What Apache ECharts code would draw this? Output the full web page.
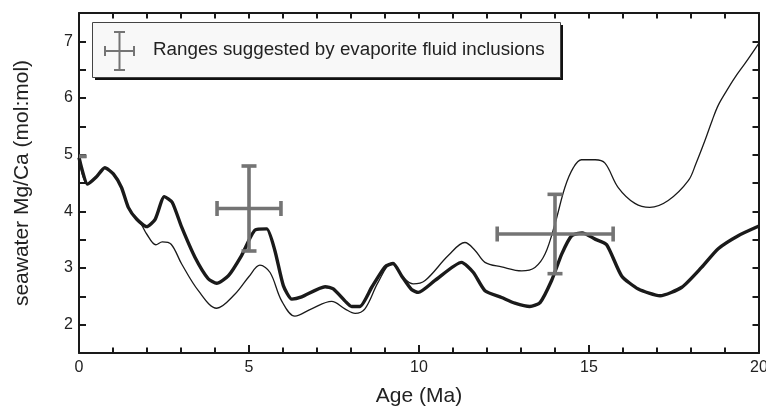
<!DOCTYPE html>
<html>
<head>
<meta charset="utf-8">
<script src="https://cdn.jsdelivr.net/npm/echarts@6/dist/echarts.min.js"></script>
<style>
html,body{margin:0;padding:0;background:#fff;}
#chart{width:766px;height:407px;}
</style>
</head>
<body>
<div id="chart"></div>
<script>
// ---- data ----
const ageThick = [0,0.25,0.5,0.76,1.01,1.25,1.45,1.7,1.99,2.24,2.51,2.74,3.02,3.41,3.8,4.05,4.39,4.78,5.18,5.52,5.76,6.01,6.26,6.55,7.24,7.48,7.82,8.02,8.26,8.61,9.0,9.24,9.49,9.78,9.98,10.47,11.25,11.6,11.94,12.43,12.82,13.26,13.56,13.9,14.2,14.49,14.8,15.18,15.52,15.96,16.45,17.09,17.73,18.31,18.8,19.39,20];
const mgcaThick = [4.95,4.48,4.6,4.77,4.66,4.42,4.07,3.86,3.73,3.86,4.26,4.16,3.72,3.19,2.81,2.73,2.86,3.22,3.67,3.69,3.31,2.69,2.45,2.49,2.67,2.63,2.42,2.32,2.32,2.66,3.02,3.08,2.86,2.62,2.57,2.78,3.10,2.92,2.6,2.48,2.38,2.32,2.39,2.78,3.25,3.57,3.62,3.51,3.41,2.86,2.63,2.51,2.66,3.01,3.34,3.57,3.74];

const ageThin = [0,0.25,0.5,0.76,1.01,1.25,1.45,1.7,1.84,1.99,2.26,2.45,2.71,3.02,3.51,4.05,4.59,5.0,5.32,5.62,5.96,6.35,6.84,7.43,7.82,8.12,8.41,8.8,9.19,9.54,9.83,10.18,10.86,11.35,11.65,11.94,12.43,13.02,13.41,13.71,14.0,14.29,14.54,14.78,15.18,15.47,15.86,16.35,16.79,17.33,17.92,18.15,18.41,18.62,18.8,19.05,19.29,19.6,20];
const mgcaThin = [4.95,4.48,4.6,4.77,4.66,4.42,4.07,3.86,3.76,3.6,3.41,3.46,3.42,3.07,2.6,2.29,2.54,2.85,3.05,2.92,2.42,2.15,2.28,2.41,2.28,2.2,2.28,2.75,3.08,2.83,2.72,2.78,3.22,3.45,3.31,3.1,3.02,2.95,3.01,3.25,3.78,4.42,4.77,4.91,4.91,4.85,4.42,4.14,4.07,4.19,4.54,4.85,5.25,5.6,5.87,6.13,6.36,6.62,6.97];

// fluid-inclusion ranges
const incAge   = [0,    5,    14];
const incAgeLo = [0,    4.06, 12.3];
const incAgeHi = [0,    5.94, 15.71];
const incMg    = [4.97, 4.05, 3.6];
const incMgLo  = [4.97, 3.3,  2.9];
const incMgHi  = [4.97, 4.8,  4.3];

const xTickLabels = [0,5,10,15,20];
const yTickLabels = [2,3,4,5,6,7];
const legendText = 'Ranges suggested by evaporite fluid inclusions';
const xName = 'Age (Ma)';
const yName = 'seawater Mg/Ca (mol:mol)';

// ---- build ----
const thickData = ageThick.map((a,i)=>[a,mgcaThick[i]]);
const thinData = ageThin.map((a,i)=>[a,mgcaThin[i]]);
const incData = incAge.map((a,i)=>[a,incMg[i],incAgeLo[i],incAgeHi[i],incMgLo[i],incMgHi[i]]);

const FONT = '"Liberation Sans", Arial, Helvetica, sans-serif';
const GRAY = '#747474';
const INK = '#1a1a1a';

function renderErr(params, api){
  const x=api.value(0), y=api.value(1);
  const xl=api.value(2), xh=api.value(3), yl=api.value(4), yh=api.value(5);
  const pL=api.coord([xl,y]), pR=api.coord([xh,y]);
  const pB=api.coord([x,yl]), pT=api.coord([x,yh]);
  const cap=7.5;
  const st={stroke:GRAY,lineWidth:3.6,lineCap:'butt'};
  const ch=[];
  if (xh>xl){
    ch.push({type:'line',shape:{x1:pL[0],y1:pL[1],x2:pR[0],y2:pR[1]},style:st});
    ch.push({type:'line',shape:{x1:pL[0],y1:pL[1]-cap,x2:pL[0],y2:pL[1]+cap},style:st});
    ch.push({type:'line',shape:{x1:pR[0],y1:pR[1]-cap,x2:pR[0],y2:pR[1]+cap},style:st});
  }
  if (yh>yl){
    ch.push({type:'line',shape:{x1:pB[0],y1:pB[1],x2:pT[0],y2:pT[1]},style:st});
  }
  ch.push({type:'line',shape:{x1:pT[0]-cap,y1:pT[1],x2:pT[0]+cap,y2:pT[1]},style:st});
  ch.push({type:'line',shape:{x1:pB[0]-cap,y1:pB[1],x2:pB[0]+cap,y2:pB[1]},style:st});
  return {type:'group',children:ch};
}

const chart = echarts.init(document.getElementById('chart'), null, {renderer:'canvas'});

const axisLineStyle={color:INK,width:2};
const option = {
  animation:false,
  backgroundColor:'#fff',
  grid:{left:79,top:13,right:7,bottom:54,containLabel:false,outerBoundsMode:'none'},
  xAxis:[
    {type:'value',position:'bottom',min:0,max:20,interval:5,
     axisLine:{show:true,onZero:false,lineStyle:axisLineStyle},
     axisTick:{show:true,inside:true,length:8,lineStyle:{color:INK,width:2}},
     minorTick:{show:true,splitNumber:5,length:5.5,lineStyle:{color:INK,width:2}},
     splitLine:{show:false},minorSplitLine:{show:false},
     axisLabel:{show:true,fontFamily:FONT,fontSize:16,color:'#222',margin:7,
       customValues:xTickLabels,hideOverlap:false},
     name:xName,nameLocation:'middle',nameGap:33,
     nameTextStyle:{fontFamily:FONT,fontSize:21,color:'#222',verticalAlign:'top'}},
    {type:'value',position:'top',min:0,max:20,interval:5,
     axisLine:{show:true,onZero:false,lineStyle:axisLineStyle},
     axisTick:{show:true,inside:true,length:5.5,lineStyle:{color:INK,width:2}},
     minorTick:{show:true,splitNumber:5,length:5.5,lineStyle:{color:INK,width:2}},
     splitLine:{show:false},axisLabel:{show:false}}
  ],
  yAxis:[
    {type:'value',position:'left',min:1.5,max:7.5,interval:0.5,
     axisLine:{show:true,onZero:false,lineStyle:axisLineStyle},
     axisTick:{show:true,inside:true,length:7,lineStyle:{color:INK,width:2}},
     splitLine:{show:false},
     axisLabel:{show:true,fontFamily:FONT,fontSize:16,color:'#222',margin:6,
       customValues:yTickLabels},
     name:yName,nameLocation:'middle',nameGap:46,nameRotate:90,
     nameTextStyle:{fontFamily:FONT,fontSize:21,color:'#222'}},
    {type:'value',position:'right',min:1.5,max:7.5,interval:0.5,
     axisLine:{show:true,onZero:false,lineStyle:axisLineStyle},
     axisTick:{show:true,inside:true,length:6.5,lineStyle:{color:INK,width:2}},
     splitLine:{show:false},axisLabel:{show:false}}
  ],
  series:[
    {type:'line',name:'thin',data:thinData,xAxisIndex:0,yAxisIndex:0,
     showSymbol:false,symbol:'none',smooth:0.35,
     lineStyle:{color:INK,width:1.3},z:2,clip:true},
    {type:'line',name:'thick',data:thickData,xAxisIndex:0,yAxisIndex:0,
     showSymbol:false,symbol:'none',smooth:0.2,
     lineStyle:{color:INK,width:3.4,join:'round'},z:3,clip:true},
    {type:'custom',name:'inclusions',data:incData,xAxisIndex:0,yAxisIndex:0,
     renderItem:renderErr,clip:true,z:4,
     encode:{x:[0,2,3],y:[1,4,5]}}
  ],
  graphic:[
    {type:'rect',left:95,top:25,shape:{width:468,height:55},
     style:{fill:'#111'},z:9},
    {type:'rect',left:92,top:22,shape:{width:468,height:55},
     style:{fill:'#f8f8f8',stroke:'#444',lineWidth:1},z:10},
    {type:'line',shape:{x1:105,y1:51,x2:134,y2:51},style:{stroke:GRAY,lineWidth:2},z:11},
    {type:'line',shape:{x1:105,y1:46,x2:105,y2:56},style:{stroke:GRAY,lineWidth:2},z:11},
    {type:'line',shape:{x1:134,y1:46,x2:134,y2:56},style:{stroke:GRAY,lineWidth:2},z:11},
    {type:'line',shape:{x1:119.5,y1:32,x2:119.5,y2:70},style:{stroke:GRAY,lineWidth:2},z:11},
    {type:'line',shape:{x1:114,y1:32,x2:125,y2:32},style:{stroke:GRAY,lineWidth:2},z:11},
    {type:'line',shape:{x1:114,y1:70,x2:125,y2:70},style:{stroke:GRAY,lineWidth:2},z:11},
    {type:'text',left:153,top:40,style:{text:legendText,font:'18.8px '+FONT,fill:'#222'},z:11}
  ]
};
chart.setOption(option);
</script>
</body>
</html>
